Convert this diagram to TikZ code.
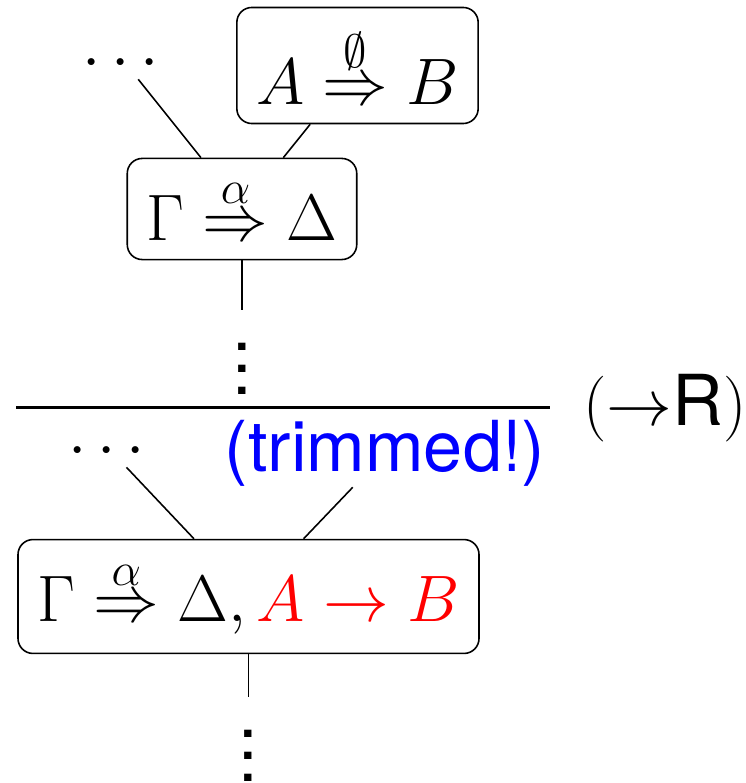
\RequirePackage{fix-cm}
\documentclass[tikz,border=0pt]{standalone}
\usepackage{amsmath}
\usepackage[no-math]{fontspec}
\setmainfont{TeX Gyre Heros}
\usepackage{tikz}
\DeclareMathSizes{18.7}{18.7}{13.3}{9.35}
\newcommand{\seqsize}{\fontsize{18.7}{22}\selectfont}
\newcommand{\labsize}{\fontsize{20}{24}\selectfont}
\newcommand{\tallvdots}{\vbox{\baselineskip6.2pt\lineskiplimit0pt\kern9.3pt\hbox{.}\hbox{.}\hbox{.}}}

\begin{document}
\begin{tikzpicture}[
    seq/.style={rectangle, rounded corners=0.15cm, draw, line width=0.45pt, inner sep=5.5pt, font=\seqsize},
    gap/.style={inner sep=0pt, font=\seqsize},
    link/.style={line width=0.45pt},
    rule/.style={line width=1pt}
  ]
  \useasboundingbox (0,0) rectangle (7.45,-7.83);

  % premise above the rule
  \node[gap] (dotsA) at (1.26,-0.64) {$\cdots$};
  \node[seq] (hyp) at (3.575,-0.655) {$A \stackrel{\emptyset}{\Rightarrow} B$};
  \node[seq] (premise) at (2.42,-2.09) {$\Gamma \stackrel{\alpha}{\Rightarrow} \Delta$};
  \node[gap, font=\labsize, anchor=north] (vdotsA) at (2.42,-3.10) {\tallvdots};

  \draw[link] (dotsA) -- (premise);
  \draw[link] (hyp) -- (premise);
  \draw[link] (premise) -- (vdotsA);

  % the rule
  \coordinate (ruleL) at (0.16,-4.075);
  \coordinate (ruleR) at (5.50,-4.075);
  \draw[rule] (ruleL) -- (ruleR);
  \node[gap, font=\labsize, anchor=west] (rname) at (5.83,-4.08) {{\seqsize$(\rightarrow$}R{\seqsize$)$}};

  % conclusion below the rule
  \node[gap] (dotsB) at (1.12,-4.52) {$\cdots$};
  \node[gap, font=\labsize, text=blue] (trim) at (3.85,-4.535) {(trimmed!)};
  \node[seq] (concl) at (2.485,-5.965) {$\Gamma \stackrel{\alpha}{\Rightarrow} \Delta, \textcolor{red}{A \rightarrow B}$};
  \node[gap, font=\labsize, anchor=north] (vdotsB) at (2.485,-6.97) {\tallvdots};

  \draw[link] (dotsB) -- (concl);
  \draw[link] (trim) -- (concl);
  \draw[link] (concl) -- (vdotsB);

\end{tikzpicture}
\end{document}
